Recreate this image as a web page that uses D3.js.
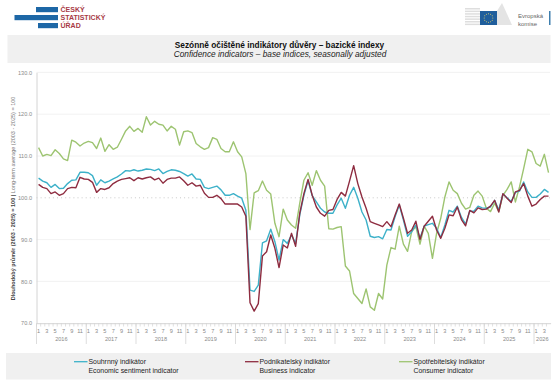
<!DOCTYPE html>
<html><head><meta charset="utf-8">
<script src="https://cdn.jsdelivr.net/npm/d3@7"></script>
<style>html,body{margin:0;padding:0;background:#fff}svg{display:block}text{font-family:"Liberation Sans",Arial,sans-serif}</style>
</head><body><svg id="c" width="557" height="386"></svg>
<script>
const years=[2016,2017,2018,2019,2020,2021,2022,2023,2024,2025,2026];
const monthCounts=[12,12,12,12,12,12,12,12,12,12,4];
const yTicks=[70,80,90,100,110,120,130];
const esi=[104.7,104,103.6,102.5,103.2,102.2,102.3,103.4,104.2,104.3,106.1,106.1,106,105.3,103,104.3,103.6,104,104.5,105,105.7,106.5,106.4,106.7,106.4,106.6,106.9,106.8,106.5,106.9,105.8,106.3,106.7,106.6,106.3,105.8,105.2,105.7,104.5,104.4,102.5,102.2,102.5,102.8,101.9,100.6,100.6,101,100.4,99.9,97,77.9,77.6,79.1,89.2,89.7,92.5,89.5,85.1,90,89.1,91.1,89.1,95.9,100.6,104.1,100.5,99,97.5,96.6,96.3,96.3,98.3,99.9,97.5,100.6,102.5,99.9,96.6,94.7,90.8,90.5,90.7,90.2,92.4,92.3,95.5,98.3,94.7,90.8,91.9,93.5,90.3,93.2,93.6,93.9,92.7,90.5,93.5,97,96.6,98,95.3,93.7,96.8,96.8,98,97.6,97.5,97.8,99.4,97.1,100.9,100,99.1,101.3,101.6,103.8,101.4,100.1,100.1,100.9,102,101.3];
const bci=[103.2,102.5,102.2,101,101.4,100.6,101,102.2,102.5,102.4,104.9,104.5,104.4,103.7,101.3,102.2,102,102.4,103.4,104,104.4,104.6,104.8,104.1,104.8,104.5,104.8,105,104.3,104.7,103.5,104.4,104.7,104.7,105,104.1,103,103.6,102.8,103,101.1,100.1,100.1,100.6,99.8,98.5,98.5,98.5,98.5,97.8,95.6,74.9,72.9,74.7,86.1,87.1,91.1,87.9,83.3,88.7,88,91.5,88.4,96.3,101,104.4,100.6,97.8,96.3,95.6,97,97.2,99.6,101.3,100.4,104,107.7,103.4,100.2,97.5,94.3,93.9,93.5,93.1,94.3,93.1,95.9,98.5,95.1,91.5,92.3,94.4,90,93.2,94.4,95.6,92.3,90.3,92.7,95.9,95.7,97.8,94.8,93.3,97,96.4,97.6,97.2,97.3,98,99.4,96.6,101,99.9,98.9,101.4,101.8,103.4,100.4,98,98.5,99.6,100.4,100.4];
const cci=[112,110,110.4,110.1,111.5,110.6,109.3,108.9,113.8,113.3,112.4,113.1,113.5,113.2,111.8,114.3,111.1,112.7,111.6,112.1,114,116,117.1,115.9,116.6,115.7,119.4,117.4,118.3,117.6,117.4,116,117.1,116.4,112.6,115.8,116,115.6,113,112.2,111.6,112,114.4,114,111.8,111,111,113.4,111,109.8,105.8,92.4,101.2,101.7,104,101.8,100.9,93.9,90.7,97.3,94.7,93.5,92.7,98.7,104.2,106,103,106.5,104.2,102.8,92.6,92.5,92.9,93.1,83.7,82.5,77.1,75.9,74.7,78.2,73.9,73.1,77.1,75.8,83.9,88.1,87.7,93.2,88.9,87.2,91.9,93.1,88.9,93.2,91.5,85.5,91.5,95.1,100.2,103.8,101.8,101,98.7,97.3,97.7,100.6,101.6,100.4,97.5,96.7,98.7,96.7,100.6,102,103.8,99,102.6,107,111.6,111,108.2,107.6,110.4,106];
const legendCz=["Souhrnný indikátor","Podnikatelský indikátor","Spotřebitelský indikátor"];
const legendEn=["Economic sentiment indicator","Business indicator","Consumer indicator"];
const colors=["#3db1c9","#8e2c40","#9dc471"];

const svg=d3.select("#c");
const months=[];
years.forEach((yr,k)=>{for(let m=1;m<=monthCounts[k];m++)months.push(yr+"-"+m)});
const x=d3.scaleBand().domain(months).range([36.5,550.6]).padding(0);
const y=d3.scaleLinear().domain([70,130]).range([323.2,72.4]);

// bands
svg.append("rect").attr("x",7.5).attr("y",35).attr("width",543).attr("height",28).attr("fill","#f0f0f0");
svg.append("rect").attr("x",6).attr("y",353).attr("width",545).attr("height",26.5).attr("fill","#f0f0f0");

// header logos
const logoBars=[[36,22,7],[14.5,43.5,15],[38,20,23]];
logoBars.forEach(b=>svg.append("rect").attr("x",b[0]).attr("y",b[2]).attr("width",b[1]).attr("height",5.2).attr("fill","#1d67a6"));
["ČESKÝ","STATISTICKÝ","ÚŘAD"].forEach((t,i)=>svg.append("text").attr("x",60.5).attr("y",[12,19.8,28][i]).attr("font-size",7).attr("font-weight","bold").attr("fill","#a83a45").text(t));
// EC logo
const ec=svg.append("g");
[0,1,2,3,4,5,6].forEach(i=>ec.append("rect").attr("x",465).attr("y",8+i*2.6).attr("width",15).attr("height",1.5).attr("fill","#dedede"));
ec.append("path").attr("d","M497 11 L502 3 L512 25 L497 25 Z").attr("fill","#e4e4e4");
ec.append("rect").attr("x",480).attr("y",11).attr("width",17).attr("height",14).attr("fill","#1f5e9c");
d3.range(12).forEach(i=>ec.append("circle").attr("cx",488.5+4.3*Math.cos(i*Math.PI/6)).attr("cy",18+4.3*Math.sin(i*Math.PI/6)).attr("r",.5).attr("fill","#e8d768"));
["Evropská","komise"].forEach((t,i)=>ec.append("text").attr("x",518).attr("y",[18,26][i]).attr("font-size",6).attr("fill","#666").text(t));
ec.append("rect").attr("x",549).attr("y",11).attr("width",1.5).attr("height",14).attr("fill","#3f7fae");

// titles
svg.append("text").attr("x",279.5).attr("y",47.5).attr("text-anchor","middle").attr("font-size",8.3).attr("font-weight","bold").attr("fill","#111").text("Sezónně očištěné indikátory důvěry – bazické indexy");
svg.append("text").attr("x",280).attr("y",56.5).attr("text-anchor","middle").attr("font-size",8.3).attr("font-style","italic").attr("fill","#222").text("Confidence indicators – base indices, seasonally adjusted");

// grid
svg.append("g").selectAll("line").data(yTicks.filter(v=>v!==70)).join("line")
 .attr("x1",36.5).attr("x2",550).attr("y1",d=>y(d)).attr("y2",d=>y(d))
 .attr("stroke",d=>d===100?"#c9c9c9":"#efefef").attr("stroke-width",d=>d===100?1:.8)
 .attr("stroke-dasharray",d=>d===100?"1 3.1":null);

// y axis
const ya=svg.append("g").attr("transform","translate(36.5,0)").call(d3.axisLeft(y).tickValues(yTicks).tickSize(0).tickPadding(4.5).tickFormat(d3.format(".1f")));
ya.select(".domain").attr("stroke","#d4d4d4");
ya.selectAll("text").attr("font-size",5.6).attr("fill","#8a8a8a").attr("font-family","Liberation Sans");

// x axis: months
const xa=svg.append("g").attr("transform","translate(0,323.2)").call(d3.axisBottom(x).tickSize(0).tickPadding(6)
  .tickFormat(d=>{const m=+d.split("-")[1];return m%2?m:""}));
xa.select(".domain").attr("stroke","#d4d4d4");
xa.selectAll("text").attr("font-size",5.6).attr("fill","#8a8a8a").attr("font-family","Liberation Sans");
svg.append("g").selectAll("line").data(months).join("line")
 .attr("x1",d=>x(d)).attr("x2",d=>x(d)).attr("y1",323.2).attr("y2",326.5).attr("stroke","#d4d4d4").attr("stroke-width",.7);
// year groups
let start=0;
const yearGroups=years.map((yr,k)=>{const g={yr,first:months[start],n:monthCounts[k]};start+=monthCounts[k];return g});
svg.append("g").selectAll("line").data(yearGroups).join("line")
 .attr("x1",d=>x(d.first)).attr("x2",d=>x(d.first)).attr("y1",323.2).attr("y2",344).attr("stroke","#d4d4d4").attr("stroke-width",.8);
svg.append("g").selectAll("text").data(yearGroups).join("text")
 .attr("x",d=>x(d.first)+d.n*x.bandwidth()/2).attr("y",341).attr("text-anchor","middle").attr("font-size",5.6).attr("fill","#8a8a8a").text(d=>d.yr);

// y title
const yt=svg.append("text").attr("transform","translate(14.5,198.5) rotate(-90)").attr("text-anchor","middle").attr("font-size",5.5);
yt.append("tspan").attr("font-weight","bold").attr("fill","#444").text("Dlouhodobý průměr (2003 - 2025) = 100 | ");
yt.append("tspan").attr("fill","#777").text("Long-term average (2003 - 2025) = 100");

// lines
const line=d3.line().x((d,i)=>x(months[i])+x.bandwidth()/2).y(d=>y(d)).curve(d3.curveLinear);
[[cci,2],[esi,0],[bci,1]].forEach(([s,c])=>svg.append("path").datum(s).attr("d",line).attr("fill","none").attr("stroke",colors[c]).attr("stroke-width",1.4).attr("stroke-linejoin","round"));

// legend
const legX=[74,245,399];
legendCz.forEach((t,i)=>{
 const g=svg.append("g");
 g.append("line").attr("x1",legX[i]).attr("x2",legX[i]+13.5).attr("y1",361.7).attr("y2",361.7).attr("stroke",colors[i]).attr("stroke-width",1.3);
 g.append("text").attr("x",legX[i]+14.5).attr("y",364).attr("font-size",6.9).attr("fill","#222").text(t);
 g.append("text").attr("x",legX[i]+14.5).attr("y",372.5).attr("font-size",6.9).attr("fill","#222").text(legendEn[i]);
});
</script></body></html>
